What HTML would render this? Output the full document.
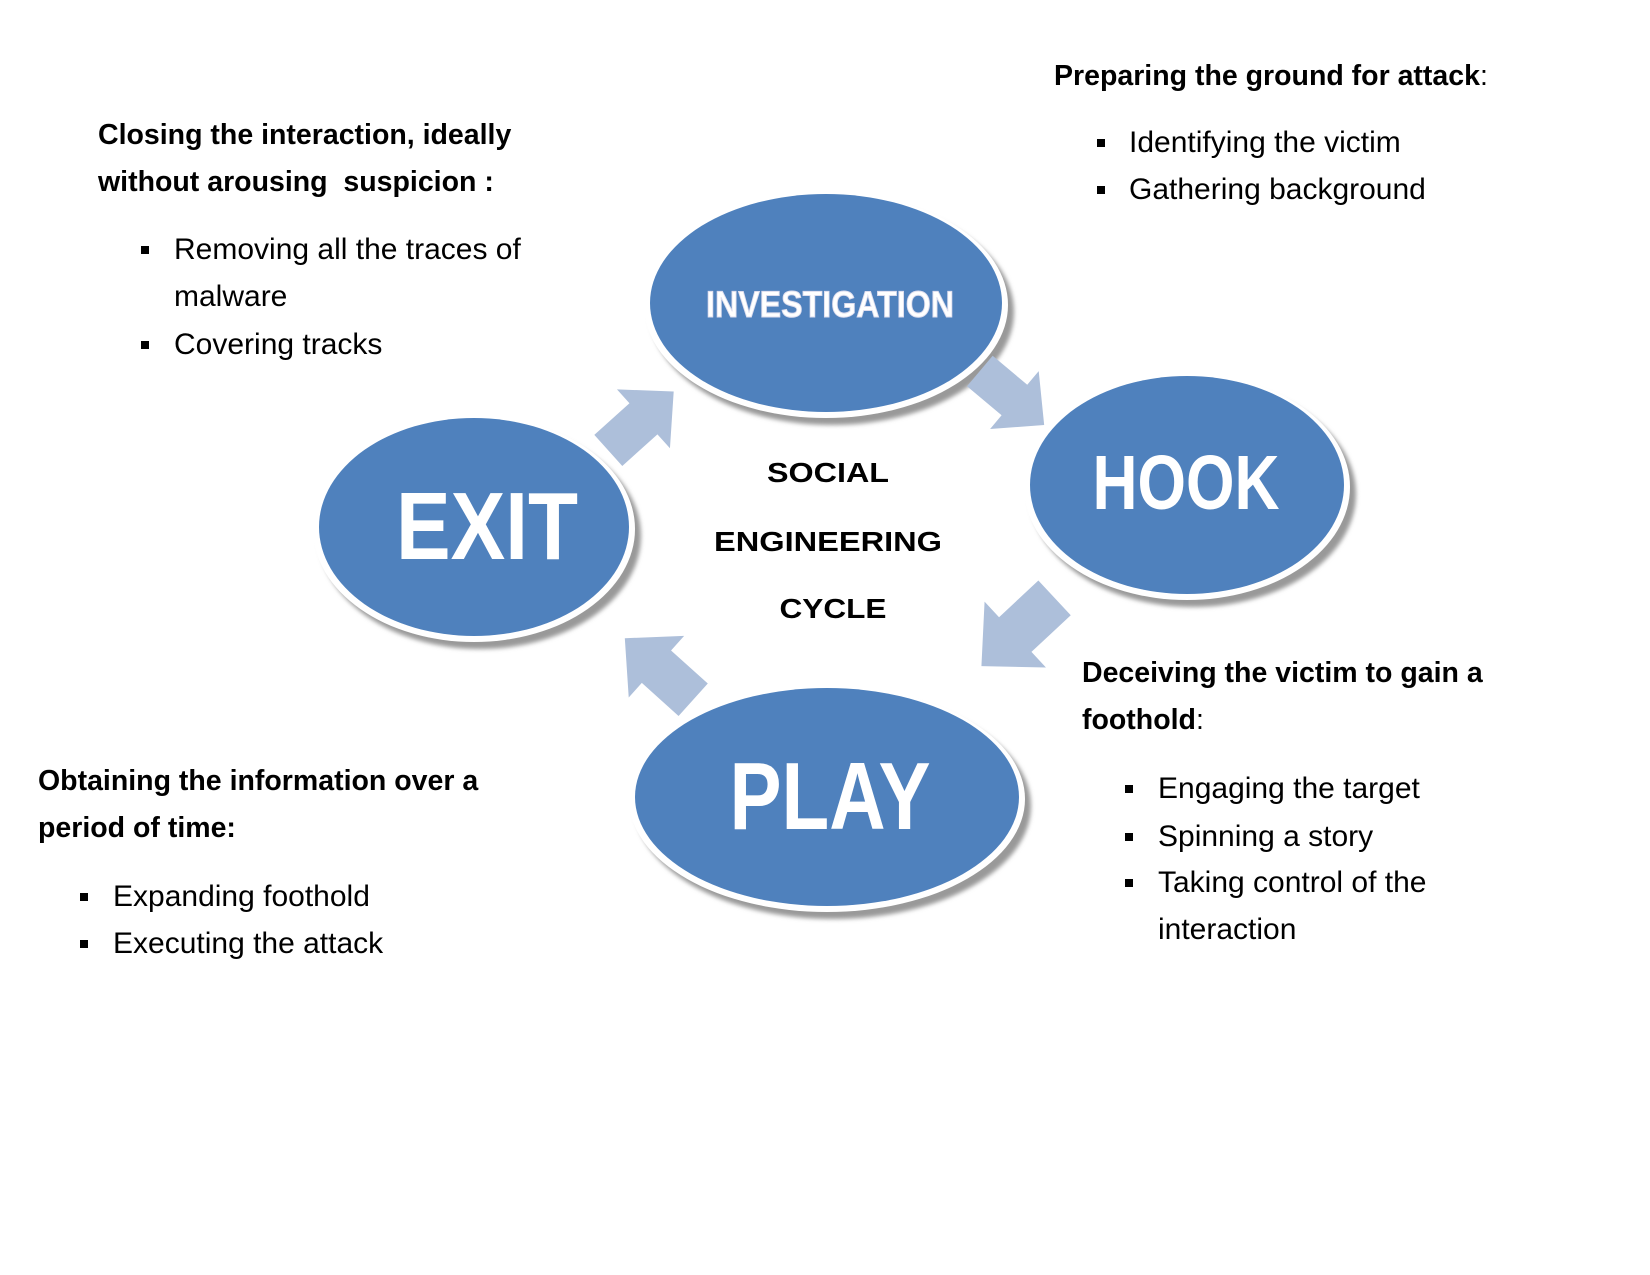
<!DOCTYPE html>
<html><head><meta charset="utf-8"><style>
body{margin:0;width:1650px;height:1275px;background:#fff;position:relative;overflow:hidden;font-family:"Liberation Sans",sans-serif;}
.t{position:absolute;font-size:30px;color:#000;line-height:47px;white-space:nowrap}
.b{font-weight:bold;font-size:28.5px}
.m{position:absolute;width:8px;height:8px;background:#000}
</style></head><body>
<svg width="1650" height="1275" style="position:absolute;left:0;top:0">
<defs>
<filter id="sh" x="-20%" y="-20%" width="140%" height="140%"><feGaussianBlur stdDeviation="2"/></filter>
<polygon id="arr" points="-40,-19 3,-19 3,-36 40,0 3,36 3,19 -40,19" fill="#adbfda"/>
</defs>
<g>
<ellipse cx="832" cy="312" rx="182" ry="113" fill="#999" filter="url(#sh)"/>
<ellipse cx="826" cy="305" rx="182" ry="113" fill="#fff"/>
<ellipse cx="826" cy="303" rx="176" ry="109" fill="#4f81bd"/>
<ellipse cx="1193" cy="494" rx="163" ry="113" fill="#999" filter="url(#sh)"/>
<ellipse cx="1187" cy="487" rx="163" ry="113" fill="#fff"/>
<ellipse cx="1187" cy="485" rx="157" ry="109" fill="#4f81bd"/>
<ellipse cx="480" cy="536" rx="161" ry="113" fill="#999" filter="url(#sh)"/>
<ellipse cx="474" cy="529" rx="161" ry="113" fill="#fff"/>
<ellipse cx="474" cy="527" rx="155" ry="109" fill="#4f81bd"/>
<ellipse cx="833" cy="806" rx="198" ry="113" fill="#999" filter="url(#sh)"/>
<ellipse cx="827" cy="799" rx="198" ry="113" fill="#fff"/>
<ellipse cx="827" cy="797" rx="192" ry="109" fill="#4f81bd"/>
</g>
<use href="#arr" transform="translate(641,421) rotate(-42) scale(1.1)"/>
<use href="#arr" transform="translate(1012,398) rotate(40) scale(1.05)"/>
<use href="#arr" transform="translate(1018,632) rotate(137) scale(1.25)"/>
<use href="#arr" transform="translate(659,669) rotate(-138) scale(1.15)"/>
<g font-family="Liberation Sans, sans-serif" font-weight="bold" fill="#fff" text-anchor="middle">
<text x="830" y="317" font-size="37" stroke="#dde" stroke-width="1" textLength="248" lengthAdjust="spacingAndGlyphs">INVESTIGATION</text>
<text x="1186" y="509" font-size="77" textLength="187" lengthAdjust="spacingAndGlyphs">HOOK</text>
<text x="487" y="559" font-size="96" textLength="182" lengthAdjust="spacingAndGlyphs">EXIT</text>
<text x="830" y="829" font-size="96" textLength="201" lengthAdjust="spacingAndGlyphs">PLAY</text>
</g>
<g font-family="Liberation Sans, sans-serif" font-weight="bold" fill="#000" text-anchor="middle" font-size="28">
<text x="828" y="482" textLength="122" lengthAdjust="spacingAndGlyphs">SOCIAL</text>
<text x="828" y="551" textLength="228" lengthAdjust="spacingAndGlyphs">ENGINEERING</text>
<text x="833" y="618" textLength="107" lengthAdjust="spacingAndGlyphs">CYCLE</text>
</g>
</svg>

<div class="t b" style="left:1054px;top:53px">Preparing the ground for attack<span style="font-weight:normal">:</span></div>
<div class="m" style="left:1097px;top:139px"></div><div class="t" style="left:1129px;top:119px">Identifying the victim</div>
<div class="m" style="left:1097px;top:186px"></div><div class="t" style="left:1129px;top:166px">Gathering background</div>

<div class="t b" style="left:98px;top:112px">Closing the interaction, ideally</div>
<div class="t b" style="left:98px;top:159px">without arousing&nbsp; suspicion :</div>
<div class="m" style="left:141px;top:246px"></div><div class="t" style="left:174px;top:226px">Removing all the traces of</div>
<div class="t" style="left:174px;top:273px">malware</div>
<div class="m" style="left:141px;top:341px"></div><div class="t" style="left:174px;top:321px">Covering tracks</div>

<div class="t b" style="left:1082px;top:650px">Deceiving the victim to gain a</div>
<div class="t b" style="left:1082px;top:697px">foothold<span style="font-weight:normal">:</span></div>
<div class="m" style="left:1125px;top:785px"></div><div class="t" style="left:1158px;top:765px">Engaging the target</div>
<div class="m" style="left:1125px;top:833px"></div><div class="t" style="left:1158px;top:813px">Spinning a story</div>
<div class="m" style="left:1125px;top:879px"></div><div class="t" style="left:1158px;top:859px">Taking control of the</div>
<div class="t" style="left:1158px;top:906px">interaction</div>

<div class="t b" style="left:38px;top:758px">Obtaining the information over a</div>
<div class="t b" style="left:38px;top:805px">period of time:</div>
<div class="m" style="left:80px;top:893px"></div><div class="t" style="left:113px;top:873px">Expanding foothold</div>
<div class="m" style="left:80px;top:940px"></div><div class="t" style="left:113px;top:920px">Executing the attack</div>
</body></html>
